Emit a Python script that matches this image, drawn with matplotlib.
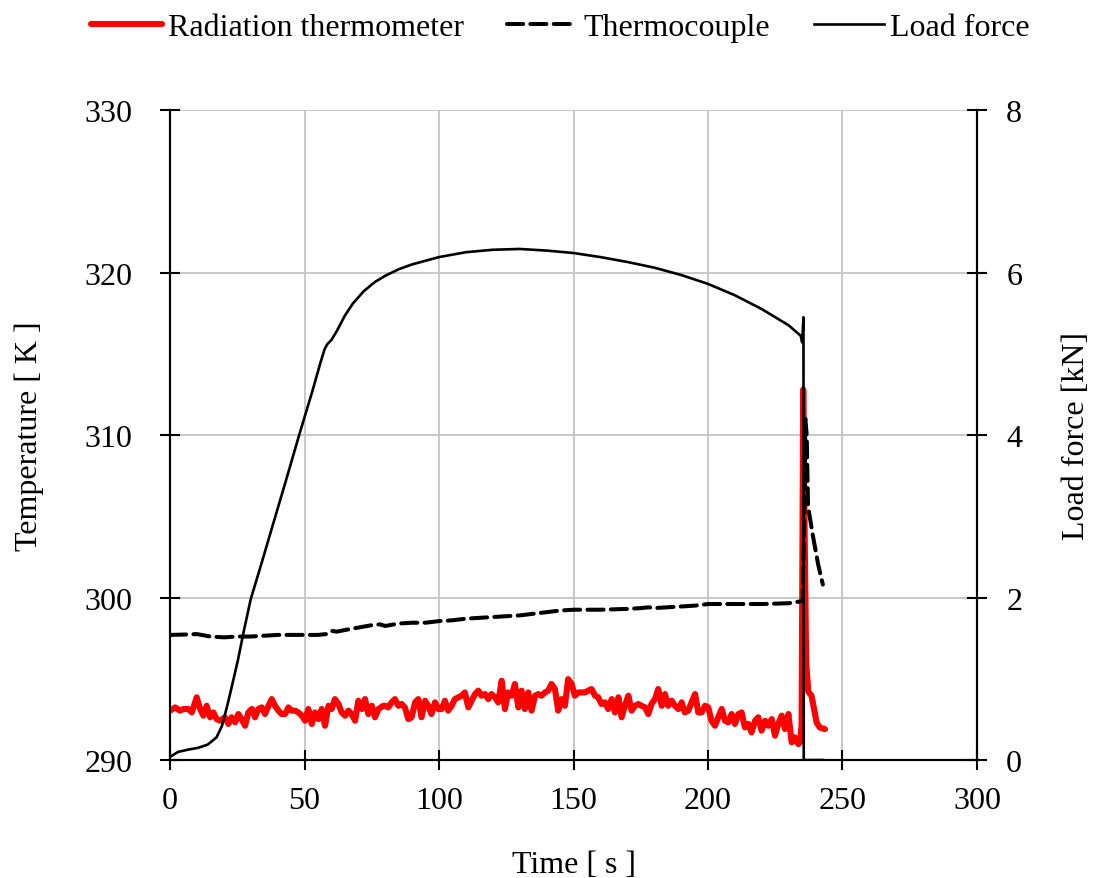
import matplotlib
matplotlib.use("Agg")
import matplotlib.pyplot as plt

# --- radiation thermometer (red, left axis) ---
rad_t = [0.0, 1.9, 3.7, 5.0, 6.8, 8.1, 9.9, 11.2, 12.4, 13.6, 14.9, 16.1, 17.3, 18.6, 20.4,
         21.7, 22.9, 24.2, 25.4, 26.6, 27.9, 29.1, 30.4, 31.6, 32.8, 34.1, 35.3, 36.6, 37.8,
         39.0, 40.3, 41.5, 42.8, 44.0, 45.2, 46.5, 47.7, 49.0, 50.2, 51.4, 52.7, 53.9, 55.2,
         56.4, 57.6, 58.9, 60.1, 61.3, 62.6, 63.8, 65.1, 66.3, 67.5, 68.8, 70.0, 71.3, 72.5,
         73.7, 75.0, 76.2, 77.5, 79.3,
         79.9, 81.1, 82.4, 83.6, 84.9, 86.1, 87.3, 88.6, 89.8, 91.1, 92.3, 93.5, 94.8, 96.0,
         97.2, 98.5, 99.7, 101.0, 102.2, 103.4, 104.7, 105.9, 107.2, 108.4, 109.6, 110.9,
         112.1, 113.4, 114.6, 115.8, 117.1, 118.3, 119.5, 120.8, 122.0, 123.3, 124.5, 125.7,
         127.0, 128.2, 129.5, 130.7, 131.9, 133.2, 134.4, 135.7, 136.9, 138.1, 139.4, 140.6,
         141.8, 143.1, 144.3, 145.6, 146.8, 148.0, 149.3, 150.5, 151.8, 153.0, 154.2, 155.5,
         156.7, 158.0, 159.2, 160.4,
         161.7, 162.9, 164.2, 165.4, 166.7, 167.9, 169.1, 170.4, 171.6, 172.9, 174.1, 175.3,
         176.6, 177.8, 179.0, 180.3, 181.5, 182.8, 184.0, 185.2, 186.5, 187.7, 189.0, 190.2,
         191.4, 192.7, 193.9, 195.2, 196.4, 197.6, 198.9, 200.1, 201.3, 202.6, 203.8, 205.1,
         206.3, 207.5, 208.8, 210.0, 211.3, 212.5, 213.7, 215.0, 216.2, 217.5, 218.7, 219.9,
         221.2, 222.4, 223.7, 224.9, 226.1, 227.4, 228.6, 229.9, 231.1, 232.3, 233.6,
         234.2, 234.8, 235.4, 236.0, 236.5, 237.3, 238.5, 240.4, 241.6, 243.5]
rad_T = [293.04, 293.24, 293.04, 293.14, 293.14, 292.93, 293.86, 293.14, 292.73, 293.34,
         292.63, 292.93, 292.52, 292.42, 292.63, 292.22, 292.63, 292.32, 292.83, 292.52,
         292.11, 292.93, 293.14, 292.63, 293.14, 293.24, 292.83, 293.34, 293.75, 293.34,
         293.04, 292.83, 292.83, 293.24, 293.04, 293.04, 292.93, 292.73, 292.42, 293.14,
         292.22, 292.93, 292.52, 293.14, 292.11, 293.34, 293.14, 293.75, 293.45, 292.93,
         292.73, 293.04, 292.83, 292.42, 293.65, 293.14, 293.75, 292.83, 293.34, 292.63,
         293.14, 293.34,
         293.34, 293.24, 293.55, 293.75, 293.34, 293.45, 293.24, 292.52, 292.63, 293.55,
         293.75, 292.63, 293.65, 293.34, 292.83, 293.55, 293.14, 293.14, 293.65, 293.04,
         293.34, 293.75, 293.86, 293.96, 294.16, 293.24, 293.65, 294.06, 294.27, 293.96,
         294.06, 293.75, 294.06, 293.86, 293.55, 294.88, 293.14, 294.16, 293.96, 294.68,
         293.24, 294.27, 293.14, 294.16, 293.04, 293.96, 294.06, 293.96, 294.16, 294.27,
         294.68, 294.37, 293.04, 293.75, 293.34, 294.98, 294.68, 293.96, 294.16, 294.16,
         294.16, 294.27, 294.37, 293.96, 293.86, 293.45,
         293.55, 293.14, 293.75, 292.93, 293.86, 292.63, 293.34, 293.96, 293.04, 293.34,
         293.45, 293.34, 293.24, 292.83, 293.45, 293.75, 294.37, 293.34, 294.06, 293.34,
         293.65, 293.34, 293.14, 293.55, 292.93, 293.04, 293.55, 294.06, 292.93, 292.93,
         293.34, 293.24, 292.42, 292.11, 292.63, 293.14, 292.42, 292.32, 292.83, 292.22,
         292.83, 292.93, 292.01, 292.22, 291.70, 292.42, 292.63, 291.81, 292.42, 292.11,
         292.52, 291.50, 292.22, 292.73, 291.91, 292.83, 291.09, 291.40, 290.98,
         291.10, 292.10, 312.80, 303.00, 296.00, 294.20, 293.96, 292.30, 292.00, 291.90]

# --- thermocouple (dashed, left axis) ---
tc_t = [0, 5, 10, 15, 20, 25, 30, 35, 40, 45, 50, 55, 58, 60, 62, 65, 70, 75, 78, 80, 85,
        90, 95, 100, 105, 110, 115, 120, 125, 130, 135, 140, 145, 150, 160, 170, 175, 178,
        180, 185, 190, 195, 200, 210, 220, 230, 234, 235.2, 235.8, 236.2, 236.7, 237.2,
        239.0, 241.0, 242.7]
tc_T = [297.70, 297.72, 297.75, 297.60, 297.55, 297.60, 297.60, 297.65, 297.70, 297.70,
        297.70, 297.70, 297.75, 297.95, 297.90, 298.00, 298.15, 298.30, 298.35, 298.25,
        298.40, 298.45, 298.45, 298.55, 298.60, 298.70, 298.75, 298.80, 298.85, 298.90,
        299.00, 299.10, 299.20, 299.25, 299.25, 299.30, 299.35, 299.40, 299.35, 299.40,
        299.45, 299.50, 299.60, 299.60, 299.60, 299.65, 299.75, 299.80, 305.0, 311.0,
        310.0, 305.6, 303.8, 302.0, 300.8]

# --- load force (solid, right axis) ---
load_t = [0, 3, 7, 10.4, 14, 17.3, 19.3, 21.2, 23, 25.3, 27.5, 30, 34, 38, 43, 48, 53, 56,
          57.5, 58.5, 60, 62, 65, 68, 72, 76, 80, 85, 90, 100, 110, 120, 130, 140, 150, 160,
          170, 180, 190, 200, 210, 220, 230, 234.5, 235.0, 235.5, 235.6, 242.7]
load_F = [0.04, 0.10, 0.13, 0.15, 0.19, 0.28, 0.42, 0.66, 0.91, 1.24, 1.60, 1.98, 2.42, 2.87,
          3.43, 4.00, 4.55, 4.90, 5.06, 5.12, 5.17, 5.28, 5.47, 5.62, 5.77, 5.88, 5.96, 6.04,
          6.10, 6.19, 6.25, 6.28, 6.29, 6.27, 6.24, 6.19, 6.13, 6.06, 5.97, 5.86, 5.72, 5.55,
          5.35, 5.22, 5.14, 5.45, 0.0, 0.0]

plt.rcParams["font.family"] = ["Liberation Serif", "DejaVu Serif"]
plt.rcParams["font.size"] = 23

fig = plt.figure(figsize=(10.95, 8.79), dpi=100)
ax = fig.add_axes([0.1553, 0.1342, 0.7369, 0.7395])
ax2 = ax.twinx()

l1, = ax.plot(rad_t, rad_T, color="red", lw=4.4, solid_joinstyle="round",
              solid_capstyle="round", label="Radiation thermometer", zorder=3)
l2, = ax.plot(tc_t, tc_T, color="black", lw=2.9, ls=(0, (4, 1.8)),
              dash_capstyle="round", label="Thermocouple", zorder=4)
l3, = ax2.plot(load_t, load_F, color="black", lw=1.9, label="Load force", zorder=5)

ax.set_xlim(0, 300)
ax.set_ylim(290, 330)
ax2.set_ylim(0, 8)
ax.set_xticks(range(0, 301, 50))
ax.set_yticks(range(290, 331, 10))
ax2.set_yticks(range(0, 9, 2))

ax.grid(True, color="#c4c4c4", lw=1.3)
ax.set_axisbelow(True)

for a in (ax, ax2):
    a.spines["top"].set_visible(False)
    for s in ("left", "right", "bottom"):
        a.spines[s].set_linewidth(1.5)
ax.tick_params(axis="both", direction="inout", length=14, width=1.5, color="black")
ax.tick_params(axis="y", pad=20)
ax.tick_params(axis="x", pad=12)
ax2.tick_params(axis="y", direction="inout", length=14, width=1.5, pad=14)

ax.set_xlabel("Time [ s ]", labelpad=25)
ax.set_ylabel("Temperature [ K ]", labelpad=29)
ax2.set_ylabel("Load force [kN]", labelpad=29)

fig.legend(handles=[l1, l2, l3], loc="center", bbox_to_anchor=(0.512, 0.968), ncol=3,
           frameon=False, handlelength=2.2, handletextpad=0.2, columnspacing=1.35,
           borderaxespad=0)

fig.savefig("out.png", dpi=100)
